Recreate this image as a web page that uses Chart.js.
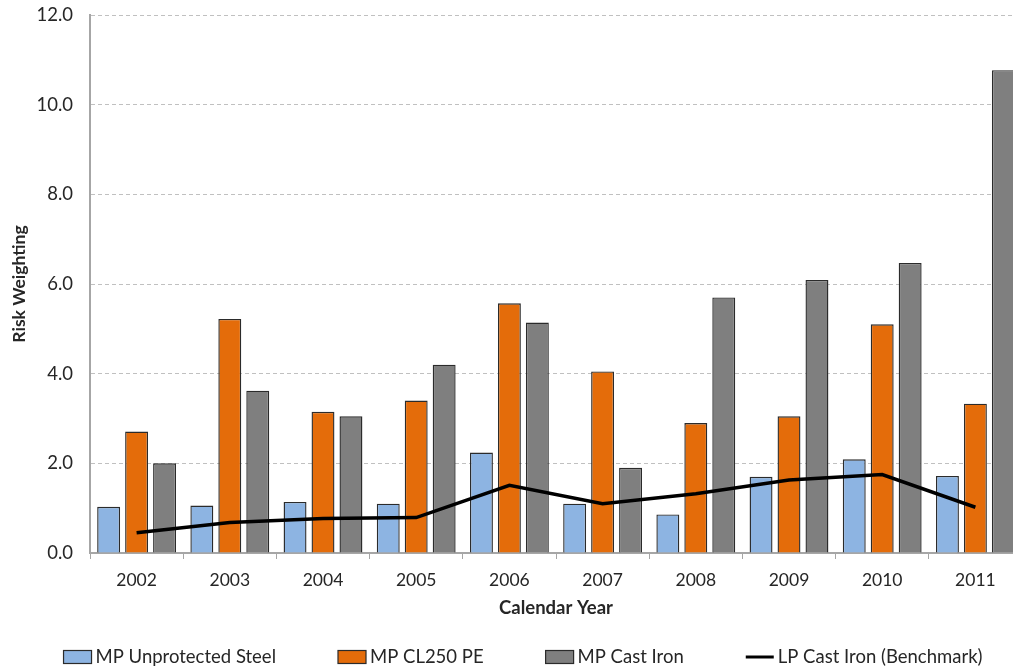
<!DOCTYPE html>
<html>
<head>
<meta charset="utf-8">
<script src="https://cdn.jsdelivr.net/npm/chart.js@4.4.1/dist/chart.umd.min.js"></script>
<style>
  html, body { margin: 0; padding: 0; background: #fff; overflow: hidden; }
  #wrap { width: 1022px; height: 666px; }
</style>
</head>
<body>
<div id="wrap"><canvas id="c" width="1022" height="666"></canvas></div>
<script>
const categories = ['2002', '2003', '2004', '2005', '2006', '2007', '2008', '2009', '2010', '2011'];
const mpUnprotectedSteel = [1.03, 1.06, 1.14, 1.10, 2.24, 1.10, 0.86, 1.70, 2.09, 1.72];
const mpCL250PE = [2.71, 5.22, 3.15, 3.40, 5.57, 4.05, 2.90, 3.05, 5.10, 3.33];
const mpCastIron = [2.00, 3.62, 3.05, 4.20, 5.14, 1.90, 5.70, 6.09, 6.47, 10.77];
const lpCastIronBenchmark = [0.45, 0.68, 0.77, 0.79, 1.51, 1.10, 1.32, 1.63, 1.75, 1.02];
const seriesNames = ['MP Unprotected Steel', 'MP CL250 PE', 'MP Cast Iron', 'LP Cast Iron (Benchmark)'];
const yTicks = [0, 2, 4, 6, 8, 10, 12];
const xTitle = 'Calendar Year';
const yTitle = 'Risk Weighting';

const FONT = 'Lato, "Open Sans", sans-serif';
const TEXT = '#262626';

const legendPlugin = {
  id: 'customLegend',
  afterDraw(chart) {
    const ctx = chart.ctx;
    const ds = chart.data.datasets;
    const fontSize = 18.5;
    ctx.save();
    ctx.font = fontSize + 'px ' + FONT;
    const boxW = 28, boxH = 13, textGap = 4, itemGap = 62;
    const widths = ds.map(d => boxW + textGap + ctx.measureText(d.label).width);
    const total = widths.reduce((a, b) => a + b, 0) + itemGap * (ds.length - 1);
    let x = 523 - total / 2;
    const cy = 657;
    ds.forEach((d, i) => {
      if (d.type === 'line') {
        ctx.strokeStyle = d.borderColor;
        ctx.lineWidth = 3;
        ctx.beginPath();
        ctx.moveTo(x, cy);
        ctx.lineTo(x + boxW, cy);
        ctx.stroke();
      } else {
        ctx.fillStyle = d.backgroundColor;
        ctx.fillRect(x, cy - boxH / 2, boxW, boxH);
        ctx.strokeStyle = d.borderColor;
        ctx.lineWidth = 1.2;
        ctx.strokeRect(x, cy - boxH / 2, boxW, boxH);
      }
      ctx.fillStyle = TEXT;
      ctx.textBaseline = 'middle';
      ctx.textAlign = 'left';
      ctx.fillText(d.label, x + boxW + textGap, cy);
      x += widths[i] + itemGap;
    });
    ctx.restore();
  }
};

new Chart(document.getElementById('c'), {
  type: 'bar',
  data: {
    labels: categories,
    datasets: [
      { label: seriesNames[0], data: mpUnprotectedSteel, backgroundColor: '#8DB4E2', borderColor: '#2b2b2b', borderWidth: 1.4, order: 1 },
      { label: seriesNames[1], data: mpCL250PE, backgroundColor: '#E46C0A', borderColor: '#2b2b2b', borderWidth: 1.4, order: 1 },
      { label: seriesNames[2], data: mpCastIron, backgroundColor: '#7F7F7F', borderColor: '#2b2b2b', borderWidth: 1.4, order: 1 },
      { type: 'line', label: seriesNames[3], data: lpCastIronBenchmark, borderColor: '#000000', backgroundColor: '#000000', borderWidth: 3.5, pointRadius: 0, tension: 0, order: 0 }
    ]
  },
  options: {
    responsive: false,
    animation: false,
    categoryPercentage: 0.9,
    barPercentage: 0.82,
    layout: { padding: { top: 15, right: 0, bottom: 0, left: 0 } },
    plugins: { legend: { display: false }, tooltip: { enabled: false } },
    scales: {
      x: {
        grid: { display: true, drawOnChartArea: false, drawTicks: true, tickLength: 6, tickColor: '#A6A6A6', offset: true },
        border: { display: true, color: '#A6A6A6', width: 2 },
        ticks: { color: TEXT, font: { family: FONT, size: 17.5 }, padding: 11, maxRotation: 0 },
        title: { display: true, text: xTitle, color: TEXT, font: { family: FONT, size: 18.5, weight: 'bold' }, padding: { top: 0, bottom: 47 } },
        afterFit(s) { s.height = 113; }
      },
      y: {
        min: 0, max: 12,
        afterBuildTicks(s) { s.ticks = yTicks.map(v => ({ value: v })); },
        grid: { color: '#C0C0C0', lineWidth: 1, drawTicks: true, tickLength: 15, tickColor: 'rgba(0,0,0,0)' },
        border: { display: true, color: '#A6A6A6', width: 2, dash: [4, 3] },
        ticks: { color: TEXT, font: { family: FONT, size: 18.5 }, padding: 2, callback: v => Number(v).toFixed(1) },
        title: { display: true, text: yTitle, color: TEXT, font: { family: FONT, size: 17.5, weight: 'bold' }, padding: { top: 9, bottom: 0 } },
        afterFit(s) { s.width = 90; }
      }
    }
  },
  plugins: [legendPlugin]
});
</script>
</body>
</html>
